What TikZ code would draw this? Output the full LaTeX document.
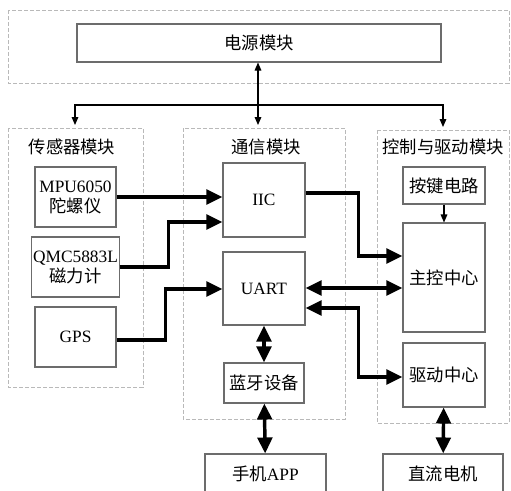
\documentclass[tikz,border=0pt]{standalone}
\usepackage{fontspec}
\setmainfont{Liberation Serif}
\newfontfamily\cjk{Noto Sans CJK SC}
\usepackage{tikz}
\usetikzlibrary{arrows.meta, calc}

\begin{document}
\begin{tikzpicture}[x=0.75pt, y=-0.75pt,
    every node/.style={font=\fontsize{13}{16}\selectfont},
    box/.style={draw=gray!85!black, line width=0.8pt, fill=white, inner sep=1pt, align=center},
    group/.style={draw=gray!55, line width=0.6pt, dash pattern=on 3pt off 1.5pt},
    bus/.style={line width=2.6pt, -{Triangle[length=12pt,width=11pt]}},
    bibus/.style={line width=2.6pt, {Triangle[length=12pt,width=11pt]}-{Triangle[length=12pt,width=11pt]}},
    thin/.style={line width=0.8pt, -{Triangle[length=6pt,width=5pt]}},
    bithin/.style={line width=0.8pt, {Triangle[length=6pt,width=5pt]}-{Triangle[length=6pt,width=5pt]}}]
    \useasboundingbox (0,0) rectangle (511,490);

    % dashed module groups
    \draw[group] (8,10) rectangle (509,83);
    \draw[group] (8,128) rectangle (143,387);
    \draw[group] (183,128) rectangle (345,419);
    \draw[group] (377,130) rectangle (509,423);

    \node (tsens) at (72,147) {\cjk 传感器模块};
    \node (tcomm) at (266,147) {\cjk 通信模块};
    \node (tctrl) at (443,147) {\cjk 控制与驱动模块};

    % blocks
    \node[box, minimum width=273pt, minimum height=28.5pt] (pow) at (259,43) {\cjk 电源模块};
    \node[box, minimum width=60.75pt, minimum height=45pt] (mpu) at (75.5,197) {MPU6050\\[-1pt]{\cjk 陀螺仪}};
    \node[box, minimum width=60.75pt, minimum height=45pt] (qmc) at (75.5,267) {QMC5883L\\[-1pt]{\cjk 磁力计}};
    \node[box, minimum width=60.75pt, minimum height=45pt] (gps) at (75.5,337) {GPS};
    \node[box, minimum width=61.5pt, minimum height=55.5pt] (iic) at (264,200) {IIC};
    \node[box, minimum width=61.5pt, minimum height=54.75pt] (uart) at (264,288.5) {UART};
    \node[box, minimum width=60pt, minimum height=30pt] (bt) at (264,383) {\cjk 蓝牙设备};
    \node[box, minimum width=90.75pt, minimum height=30pt] (app) at (265.5,474) {{\cjk 手机}APP};
    \node[box, minimum width=61.5pt, minimum height=27.75pt] (key) at (444,185.5) {\cjk 按键电路};
    \node[box, minimum width=61.5pt, minimum height=81.75pt] (zk) at (444,277.5) {\cjk 主控中心};
    \node[box, minimum width=61.5pt, minimum height=48pt] (qd) at (444,375) {\cjk 驱动中心};
    \node[box, minimum width=90pt, minimum height=30pt] (motor) at (443,474) {\cjk 直流电机};

    % power distribution
    \coordinate (pcomm) at (258,125);
    \coordinate (psens) at (75,125);
    \coordinate (pctrl) at (443,127);
    \draw[bithin] (pow.south -| pcomm) -- (pcomm);
    \draw[thin] (258,105) -| (psens);
    \draw[thin] (258,105) -| (pctrl);

    % data links
    \draw[bus] (mpu.east) -- (mpu.east -| iic.west);
    \draw[bus] (qmc.east) -- ++(49,0) |- (iic.west |- 0,222);
    \draw[bus] (gps.east |- 0,340) -- ++(49,0) |- (uart.west |- 0,289);
    \draw[bus] (iic.east |- 0,193) -- ++(53,0) |- (zk.west |- 0,256);
    \draw[bibus] (uart.east |- 0,288) -- (zk.west |- 0,288);
    \draw[bibus] (uart.east |- 0,308) -- ++(53,0) |- (qd.west |- 0,377);
    \draw[bibus] (uart) -- (bt);
    \draw[bibus] (bt) -- (app);
    \draw[bibus] (qd) -- (motor);
    \draw[thin] (key) -- (zk);
\end{tikzpicture}
\end{document}
